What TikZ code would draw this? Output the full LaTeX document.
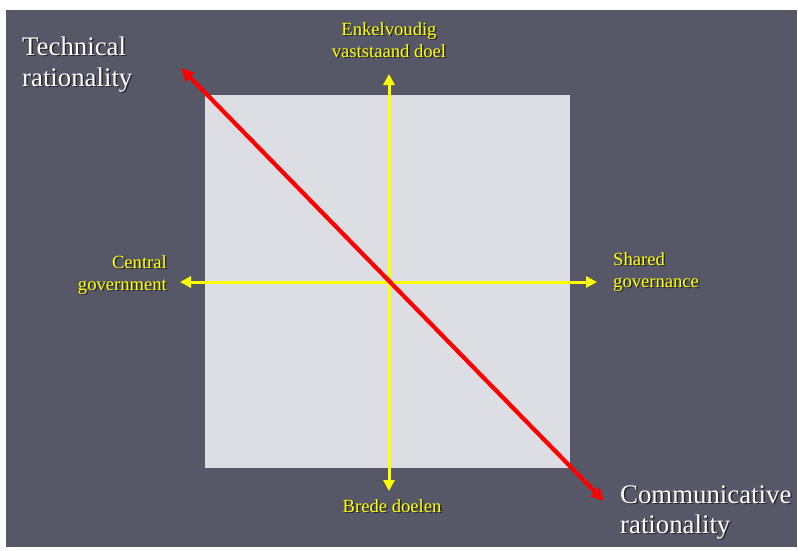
\documentclass[tikz,border=0pt]{standalone}
\usepackage{fontspec}
\setmainfont{Liberation Serif}
\usetikzlibrary{arrows.meta}
\definecolor{bgc}{RGB}{86,88,104}
\definecolor{sqc}{RGB}{221,222,228}
\definecolor{ylw}{RGB}{255,255,0}
\definecolor{rd}{RGB}{255,0,0}
\definecolor{shd}{RGB}{30,30,40}
\tikzset{
  big/.style={text=white,font=\fontsize{26.8}{31}\selectfont,inner sep=0pt},
  small/.style={text=ylw,font=\fontsize{18.6}{22}\selectfont,inner sep=0pt},
  shadowtxt/.style={text=shd,text opacity=0.85},
  yarrow/.style={draw=ylw,line width=3pt,{Triangle[length=11pt,width=11pt]}-{Triangle[length=11pt,width=11pt]}},
  rarrow/.style={draw=rd,line width=4.2pt,{Triangle[length=13pt,width=12pt]}-{Triangle[length=13pt,width=12pt]}}
}
\newcommand\mylbl[5]{%
  \node[#4,shadowtxt,anchor=#3,xshift=1.5pt,yshift=-1.5pt] (#1s) at (#2) {#5};
  \node[#4,anchor=#3] (#1) at (#2) {#5};}
\begin{document}
\begin{tikzpicture}[x=1pt,y=-1pt]
\useasboundingbox (0,0) rectangle (798,550);
\fill[white] (0,0) rectangle (798,550);
\fill[bgc] (6,10) rectangle (797,547);
% light square
\fill[sqc] (205,95) rectangle (570,468);
% endpoints
\coordinate (vt) at (389,74);
\coordinate (vb) at (389,491);
\coordinate (hl) at (180,282);
\coordinate (hr) at (597,282);
\coordinate (rt) at (181,68);
\coordinate (rb) at (604,501);
\draw[yarrow] (vt) -- (vb);
\draw[yarrow] (hl) -- (hr);
\draw[rarrow] (rt) -- (rb);
% labels
\mylbl{tech1}{22,55}{base west}{big}{Technical}
\mylbl{tech2}{22,86}{base west}{big}{rationality}
\mylbl{comm1}{620,503}{base west}{big}{Communicative}
\mylbl{comm2}{620,533}{base west}{big}{rationality}
\mylbl{enk1}{389,35}{base}{small}{Enkelvoudig}
\mylbl{enk2}{389,57}{base}{small}{vaststaand doel}
\mylbl{cen1}{167,268}{base east}{small}{Central}
\mylbl{cen2}{167,290}{base east}{small}{government}
\mylbl{sha1}{613,265}{base west}{small}{Shared}
\mylbl{sha2}{613,287}{base west}{small}{governance}
\mylbl{bre}{392,512}{base}{small}{Brede doelen}
\end{tikzpicture}
\end{document}
